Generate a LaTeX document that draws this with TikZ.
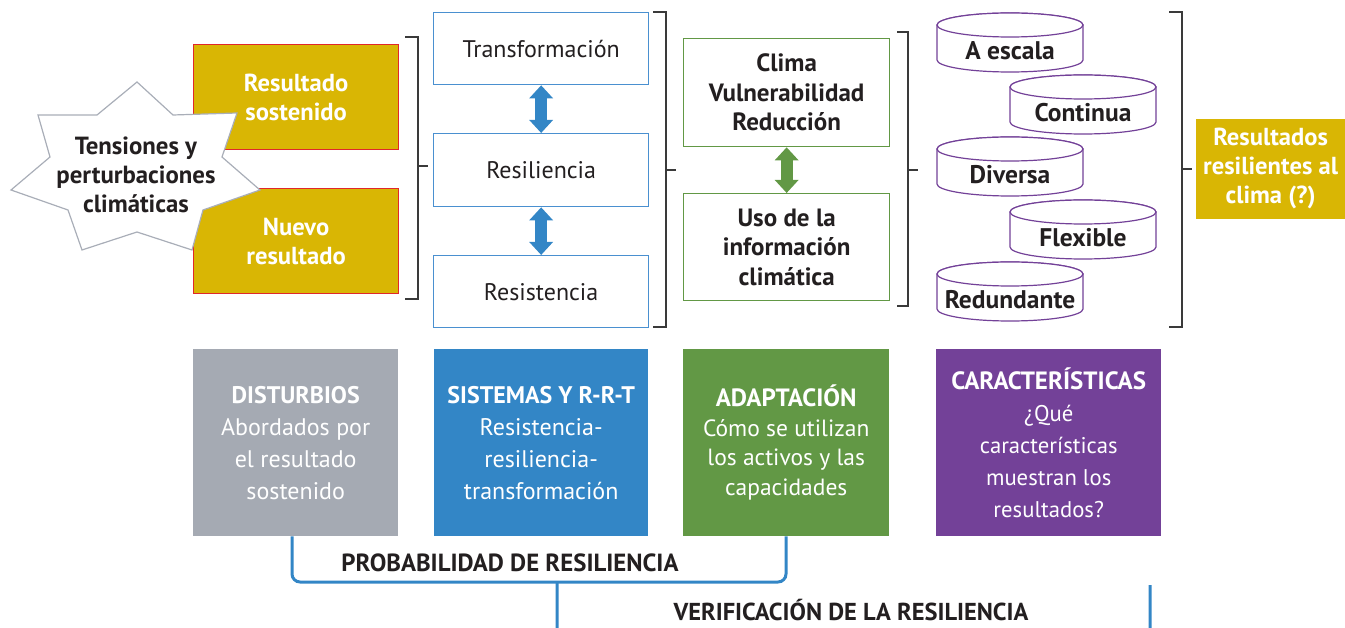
\documentclass[tikz,border=0pt]{standalone}
\usepackage{fontspec}
\setmainfont{PT Sans}
\usetikzlibrary{arrows.meta,calc}
\definecolor{gold}{RGB}{217,182,4}
\definecolor{redb}{RGB}{224,40,42}
\definecolor{bluec}{RGB}{51,134,198}
\definecolor{blueline}{RGB}{74,144,208}
\definecolor{grayc}{RGB}{165,170,179}
\definecolor{greenc}{RGB}{98,152,69}
\definecolor{purplec}{RGB}{115,65,152}
\definecolor{starc}{RGB}{169,174,184}
\definecolor{ink}{RGB}{35,31,32}
\definecolor{brk}{RGB}{58,58,58}
\tikzset{
  boxbase/.style={anchor=north west, inner sep=0pt, align=center},
  goldbox/.style={boxbase, fill=gold, draw=redb, line width=1.2pt, text=white,
     font=\fontsize{24.6}{29}\selectfont\bfseries},
  bluebox/.style={boxbase, fill=white, draw=blueline, line width=1.3pt, text=ink,
     font=\fontsize{24}{29}\selectfont},
  greenbox/.style={boxbase, fill=white, draw=greenc, line width=1.3pt, text=ink,
     font=\fontsize{25}{29.5}\selectfont\bfseries},
  bottombox/.style={boxbase, text=white, font=\fontsize{24}{32}\selectfont},
  cylst/.style={draw=purplec, fill=white, line width=1.2pt},
  cyltext/.style={text=ink, font=\fontsize{25.5}{28}\selectfont\bfseries, inner sep=0pt},
  brkst/.style={draw=brk, line width=1.1pt},
  dblarrow/.style={line width=12pt, {Triangle[width=23pt,length=13pt]}-{Triangle[width=23pt,length=13pt]}},
  connector/.style={draw=bluec, line width=3pt, rounded corners=8pt},
  labeltext/.style={text=ink, font=\fontsize{24.8}{28}\selectfont\bfseries, inner sep=0pt}
}
\newcommand\cylin[4]{%
  \filldraw[cylst] (#1,#2) -- ++(0,35) arc (180:360:73pt and 12pt) -- ++(0,-35) arc (0:180:73pt and 12pt) -- cycle;
  \draw[cylst] (#1+73,#2) ellipse (73pt and 12pt);
  \node[cyltext] (#3) at (#1+73,#2+26) {#4};}
\newcommand\rbrk[6]{%
  \draw[brkst] (#1,#3) -- (#2,#3) -- (#2,#4) -- (#1,#4);
  \draw[brkst] (#2,#5) -- (#6,#5);}
\begin{document}
\begin{tikzpicture}[x=1pt,y=-1pt]
\useasboundingbox (0,0) rectangle (1345,628);
\clip (0,0) rectangle (1345,628);

% gold outcome boxes
\node[goldbox, minimum width=205pt, minimum height=105pt] (sost) at (193,44) {Resultado\\sostenido};
\node[goldbox, minimum width=205pt, minimum height=105pt] (nuevo) at (193,188) {Nuevo\\resultado};

% star
\filldraw[fill=white, draw=starc, line width=1.2pt]
  (137,82) -- (173,115) -- (237,113) -- (222,157) -- (260,190) -- (203,210) -- (192,250)
  -- (137,232) -- (82,250) -- (68,210) -- (11,190) -- (50,157) -- (38,115) -- (97,115) -- cycle;
\node[labeltext, align=center, font=\fontsize{24.8}{29}\selectfont\bfseries] (star) at (136,175) {Tensiones y\\perturbaciones\\climáticas};

% blue R-R-T boxes
\node[bluebox, minimum width=215pt, minimum height=72pt] (trans) at (433,12) {Transformación};
\node[bluebox, minimum width=215pt, minimum height=73pt] (resil) at (433,133) {Resiliencia};
\node[bluebox, minimum width=215pt, minimum height=72pt] (resis) at (433,255) {Resistencia};
\draw[dblarrow, bluec] (trans.south) -- (resil.north);
\draw[dblarrow, bluec] (resil.south) -- (resis.north);

% green boxes
\node[greenbox, minimum width=206pt, minimum height=108pt] (clima) at (683,38) {Clima\\Vulnerabilidad\\Reducción};
\node[greenbox, minimum width=206pt, minimum height=107pt] (uso) at (683,193) {Uso de la\\información\\climática};
\draw[dblarrow, greenc] (clima.south) -- (uso.north);

% cylinders
\cylin{937}{25}{escala}{A escala}
\cylin{1010}{87}{continua}{Continua}
\cylin{937}{149}{diversa}{Diversa}
\cylin{1010}{212}{flexible}{Flexible}
\cylin{937}{274}{redund}{Redundante}

% brackets
\rbrk{405}{418}{37}{299}{166}{428}
\rbrk{653}{666}{12}{327}{170}{676}
\rbrk{897}{908}{32}{306}{170}{918}
\rbrk{1169}{1182}{12}{327}{169}{1192}

% final outcome
\node[goldbox, draw=none, minimum width=150pt, minimum height=100pt] (final) at (1195,118) {Resultados\\resilientes al\\clima (?)};

% bottom boxes
\node[bottombox, fill=grayc, minimum width=205pt, minimum height=187pt] (dist) at (193,349)
  {\textbf{DISTURBIOS}\\Abordados por\\el resultado\\sostenido};
\node[bottombox, fill=bluec, minimum width=214pt, minimum height=187pt] (sist) at (434,349)
  {\textbf{SISTEMAS Y R-R-T}\\Resistencia-\\resiliencia-\\transformación};
\node[bottombox, fill=greenc, minimum width=206pt, minimum height=187pt, font=\fontsize{23.5}{29.5}\selectfont] (adapt) at (683,349)
  {{\fontsize{25}{29.5}\selectfont\bfseries ADAPTACIÓN}\\Cómo se utilizan\\los activos y las\\capacidades};
\node[bottombox, fill=purplec, minimum width=225pt, minimum height=187pt, font=\fontsize{22.7}{32}\selectfont] (carac) at (936,349)
  {{\fontsize{25}{32}\selectfont\bfseries CARACTERÍSTICAS}\\¿Qué\\características\\muestran los\\resultados?};

% resilience brackets
\coordinate (v1) at (557,582);
\coordinate (v2) at (1150,585);
\draw[connector] (dist.south -| 292,0) -- (292,582) -- (786,582) -- (adapt.south -| 786,0);
\draw[connector] (v1) -- (557,640) -- (1150,640) -- (v2);
\node[labeltext] (prob) at (510,563) {PROBABILIDAD DE RESILIENCIA};
\node[labeltext, font=\fontsize{24.5}{28}\selectfont\bfseries] (verif) at (851,610) {VERIFICACIÓN DE LA RESILIENCIA};
\end{tikzpicture}
\end{document}
